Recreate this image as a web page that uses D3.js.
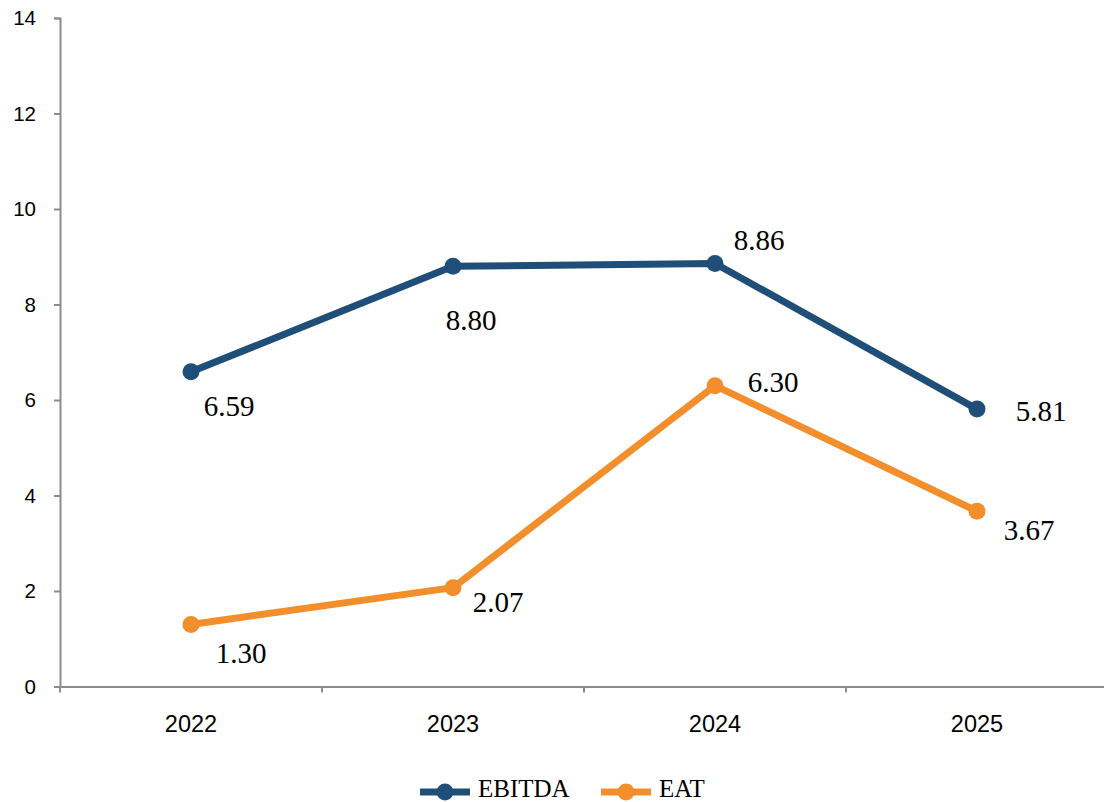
<!DOCTYPE html>
<html><head><meta charset="utf-8">
<script src="https://cdn.jsdelivr.net/npm/d3@7"></script>
<style>body{margin:0;background:#fff}svg{display:block}</style>
</head><body>
<script>
const categories = ["2022","2023","2024","2025"];
const ebitda = [6.59, 8.80, 8.86, 5.81];
const eat = [1.30, 2.07, 6.30, 3.67];
const yTicks = [0,2,4,6,8,10,12,14];
const seriesNames = ["EBITDA","EAT"];
const colors = ["#1F4E79","#F28E2B"];
// label offsets (dx, dy of baseline) relative to points
const ebitdaLabelOff = [[38,44],[18,64],[44,-13],[64,12]];
const eatLabelOff = [[50,39],[45,24],[58,6],[52,29]];

const W=1104,H=802;
const svg=d3.select("body").append("svg").attr("width",W).attr("height",H);
const x=d3.scaleBand().domain(categories).range([60,1108]);
const y=d3.scaleLinear().domain([0,14]).range([686.5,18]);
const axisColor="#8c8c8c";

// y axis
const ya=svg.append("g").attr("transform","translate(60,0)")
  .call(d3.axisLeft(y).tickValues(yTicks).tickSize(6).tickPadding(18).tickFormat(d3.format("d")));
ya.select(".domain").attr("stroke",axisColor).attr("stroke-width",2);
ya.selectAll(".tick line").attr("stroke",axisColor).attr("stroke-width",2);
ya.selectAll("text").attr("font-family","Liberation Sans, Arial, sans-serif").attr("font-size",20.5).attr("fill","#000");

// x axis
const xa=svg.append("g").attr("transform","translate(0,686.5)")
  .call(d3.axisBottom(x).tickSize(0).tickPadding(29));
xa.select(".domain").attr("stroke",axisColor).attr("stroke-width",2);
xa.selectAll("text").attr("font-family","Liberation Sans, Arial, sans-serif").attr("font-size",23.5).attr("fill","#000");
// tick marks at band boundaries
const bounds=categories.map(c=>x(c)).concat([x.range()[1]]);
xa.selectAll(".bt").data(bounds).enter().append("line")
  .attr("x1",d=>d).attr("x2",d=>d).attr("y1",0).attr("y2",6)
  .attr("stroke",axisColor).attr("stroke-width",2);

const cx=c=>x(c)+x.bandwidth()/2;
const line=d3.line().x((d,i)=>cx(categories[i])).y(d=>y(d));
const series=[ebitda,eat];
const offs=[ebitdaLabelOff,eatLabelOff];
series.forEach((s,k)=>{
  svg.append("path").attr("d",line(s)).attr("fill","none").attr("stroke",colors[k]).attr("stroke-width",7).attr("stroke-linejoin","round");
  svg.selectAll(".pt"+k).data(s).enter().append("circle")
    .attr("cx",(d,i)=>cx(categories[i])).attr("cy",d=>y(d)).attr("r",8.5).attr("fill",colors[k]);
  svg.selectAll(".lb"+k).data(s).enter().append("text")
    .attr("x",(d,i)=>cx(categories[i])+offs[k][i][0])
    .attr("y",(d,i)=>y(d)+offs[k][i][1])
    .attr("text-anchor","middle")
    .attr("font-family","Liberation Serif, Times New Roman, serif").attr("font-size",29).attr("fill","#000")
    .text(d=>d.toFixed(2));
});

// legend
const legX=[420,601];
seriesNames.forEach((n,k)=>{
  const g=svg.append("g").attr("transform",`translate(${legX[k]},792)`);
  g.append("line").attr("x1",0).attr("x2",50).attr("y1",0).attr("y2",0).attr("stroke",colors[k]).attr("stroke-width",7);
  g.append("circle").attr("cx",25).attr("cy",0).attr("r",8.5).attr("fill",colors[k]);
  g.append("text").attr("x",58).attr("y",5).attr("font-family","Liberation Serif, Times New Roman, serif").attr("font-size",25).attr("fill","#000").text(n);
});
</script>
</body></html>
